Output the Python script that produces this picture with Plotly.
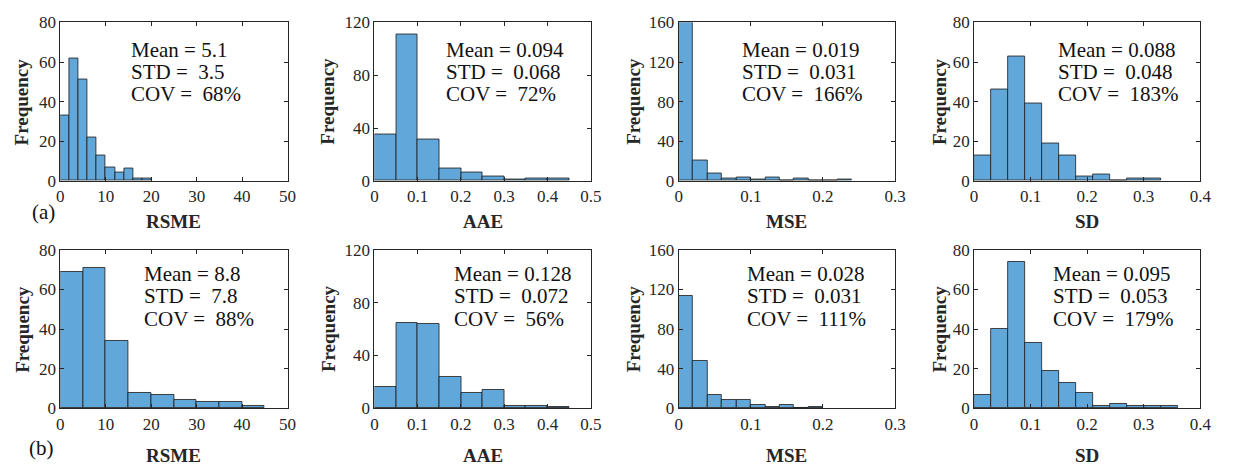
import plotly.graph_objects as go

W, H = 1233, 472

# ---------------- data (counts per bin) ----------------
rsme_a = [33, 62, 51, 22, 13, 7, 4, 6, 1, 1]
aae_a = [35, 111, 31, 9, 6, 3, 1, 2, 2]
mse_a = [160, 21, 7, 2, 3, 1, 3, 0, 2, 0, 0, 1]
sd_a = [13, 46, 63, 39, 19, 13, 2, 3, 0, 1, 1]

rsme_b = [69, 71, 34, 8, 7, 4, 3, 3, 1]
aae_b = [16, 65, 64, 24, 12, 14, 2, 2, 1]
mse_b = [114, 48, 14, 8, 8, 3, 1, 3, 0, 1]
sd_b = [7, 40, 74, 33, 19, 13, 8, 1, 2, 1, 1, 1]

bin_width_a = [2, 0.05, 0.02, 0.03]
bin_width_b = [5, 0.05, 0.02, 0.03]

x_titles = ["RSME", "AAE", "MSE", "SD"]
x_max = [50, 0.5, 0.3, 0.4]
x_dtick = [10, 0.1, 0.1, 0.1]
y_max = [80, 120, 160, 80]
y_dtick = [20, 40, 40, 20]

mean_a = ["5.1", "0.094", "0.019", "0.088"]
std_a = ["3.5", "0.068", "0.031", "0.048"]
cov_a = ["68%", "72%", "166%", "183%"]
mean_b = ["8.8", "0.128", "0.028", "0.095"]
std_b = ["7.8", "0.072", "0.031", "0.053"]
cov_b = ["88%", "56%", "111%", "179%"]
row_labels = ["(a)", "(b)"]

# ---------------- layout geometry (pixels) ----------------
col_left = [57, 375, 683, 982]
col_right = [287, 594, 902, 1211]
row_top = [14, 251]
row_bottom = [179, 416]
stat_x = [[127, 445, 745, 1065], [140, 454, 750, 1060]]
stat_y = [[43, 66, 89], [276, 299, 323]]
freq_x = [18, 328, 637, 947]
xtitle_y = [221, 465]
label_pos = [(40, 212), (38, 457)]

FONT = "Times New Roman, Liberation Serif, DejaVu Serif, serif"
BAR = "#62A7D9"
AX = "#262626"

def px_x(p):
    return p / W

def px_y(p):
    return 1 - p / H

fig = go.Figure()
annotations = []
counts_rows = [[rsme_a, aae_a, mse_a, sd_a], [rsme_b, aae_b, mse_b, sd_b]]
widths_rows = [bin_width_a, bin_width_b]
stats_rows = [(mean_a, std_a, cov_a), (mean_b, std_b, cov_b)]

idx = 0
for r in range(2):
    for c in range(4):
        idx += 1
        sfx = "" if idx == 1 else str(idx)
        counts = counts_rows[r][c]
        bw = widths_rows[r][c]
        edges = [i * bw for i in range(len(counts))]
        fig.add_trace(go.Bar(
            x=edges, y=counts, width=[bw] * len(counts), offset=0,
            marker=dict(color=BAR, line=dict(color="#1a1a1a", width=0.8)),
            xaxis="x" + sfx, yaxis="y" + sfx, showlegend=False,
        ))
        common = dict(
            showgrid=False, zeroline=False, showline=True, linecolor=AX, linewidth=1,
            mirror="ticks", ticks="inside", ticklen=4, tickcolor=AX, tickwidth=1,
            tickfont=dict(family=FONT, size=17, color=AX),
        )
        fig.update_layout(**{
            "xaxis" + sfx: dict(
                domain=[px_x(col_left[c]), px_x(col_right[c])],
                range=[0, x_max[c]], dtick=x_dtick[c], tick0=0,
                anchor="y" + sfx, **common),
            "yaxis" + sfx: dict(
                domain=[px_y(row_bottom[r]), px_y(row_top[r])],
                range=[0, y_max[c]], dtick=y_dtick[c], tick0=0,
                anchor="x" + sfx, **common),
        })
        mean, std, cov = stats_rows[r]
        lines = ["Mean = " + mean[c], "STD =  " + std[c], "COV =  " + cov[c]]
        for k, t in enumerate(lines):
            annotations.append(dict(
                text=t.replace("  ", "&nbsp; "), x=px_x(stat_x[r][c]), y=px_y(stat_y[r][k]),
                xref="paper", yref="paper", xanchor="left", yanchor="middle",
                showarrow=False, font=dict(family=FONT, size=21, color="#111111")))
        annotations.append(dict(
            text="<b>" + x_titles[c] + "</b>",
            x=px_x((col_left[c] + col_right[c]) / 2), y=px_y(xtitle_y[r]),
            xref="paper", yref="paper", xanchor="center", yanchor="middle",
            showarrow=False, font=dict(family=FONT, size=19, color="#262626")))
        annotations.append(dict(
            text="<b>Frequency</b>", textangle=-90,
            x=px_x(freq_x[c]), y=px_y((row_top[r] + row_bottom[r]) / 2),
            xref="paper", yref="paper", xanchor="center", yanchor="middle",
            showarrow=False, font=dict(family=FONT, size=19, color="#262626")))
    annotations.append(dict(
        text=row_labels[r], x=px_x(label_pos[r][0]), y=px_y(label_pos[r][1]),
        xref="paper", yref="paper", xanchor="center", yanchor="middle",
        showarrow=False, font=dict(family=FONT, size=21, color="#111111")))

fig.update_layout(
    width=W, height=H, margin=dict(l=0, r=0, t=0, b=0),
    paper_bgcolor="white", plot_bgcolor="white", bargap=0,
    annotations=annotations,
)

fig.write_html("out.html")
